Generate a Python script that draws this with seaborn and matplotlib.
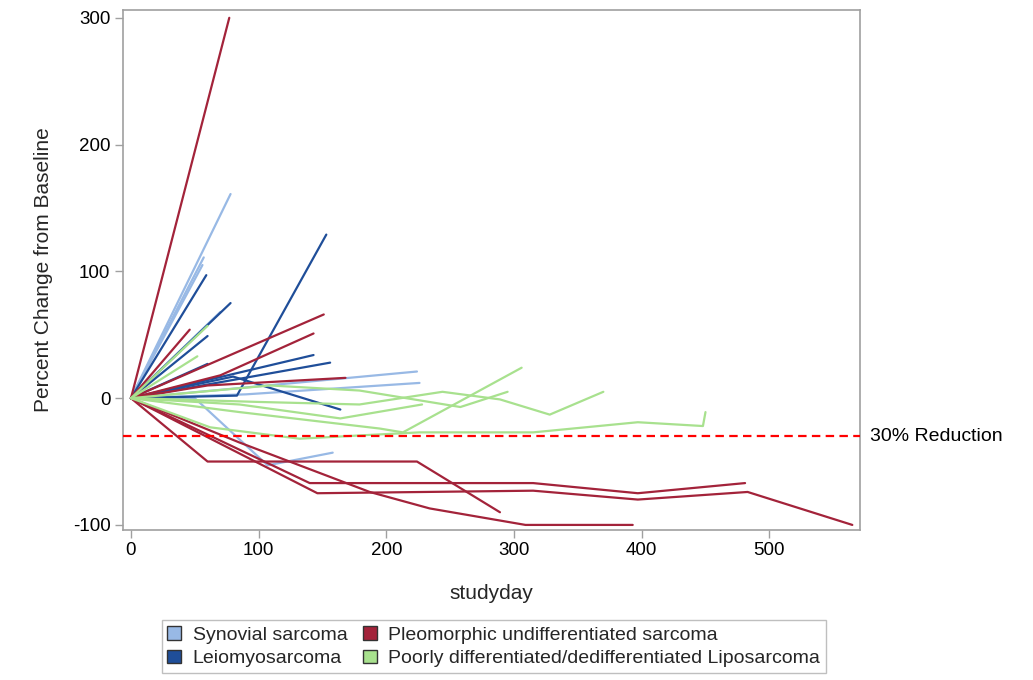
import numpy as np
import pandas as pd
import matplotlib
matplotlib.use("Agg")
import matplotlib.pyplot as plt
import matplotlib.transforms as mtransforms
from matplotlib.patches import Patch
import seaborn as sns

# Histology groups and their colours
histologies = [
    "Synovial sarcoma",
    "Leiomyosarcoma",
    "Pleomorphic undifferentiated sarcoma",
    "Poorly differentiated/dedifferentiated Liposarcoma",
]
hist_colors = ["#98B9E5", "#1F4E99", "#A3233A", "#A8E18E"]

# Per-patient tumour measurements: study day and percent change from baseline
synovial_days = [[0, 78], [0, 57], [0, 56], [0, 70], [0, 50, 107, 158], [0, 224], [0, 90, 226]]
synovial_pct = [[0, 161], [0, 111], [0, 105], [0, 68], [0, 0, -53, -43], [0, 21], [0, 3, 12]]

leio_days = [[0, 59], [0, 78], [0, 60], [0, 60], [0, 83, 153], [0, 143], [0, 156], [0, 80, 164]]
leio_pct = [[0, 97], [0, 75], [0, 49], [0, 27], [0, 2, 129], [0, 34], [0, 28], [0, 17, -9]]

pleo_days = [
    [0, 77], [0, 46], [0, 151], [0, 70, 143], [0, 60, 168],
    [0, 60, 224, 289],
    [0, 140, 315, 397, 481],
    [0, 146, 315, 397, 483, 565],
    [0, 85, 187, 234, 309, 393],
]
pleo_pct = [
    [0, 300], [0, 54], [0, 66], [0, 18, 51], [0, 10, 16],
    [0, -50, -50, -90],
    [0, -67, -67, -75, -67],
    [0, -75, -73, -80, -74, -100],
    [0, -35, -74, -87, -100, -100],
]

lipo_days = [
    [0, 52], [0, 60],
    [0, 62, 132, 187, 226, 315, 397, 448, 450],
    [0, 85, 164, 228],
    [0, 85, 195, 213, 306],
    [0, 109, 179, 258, 295],
    [0, 100, 179, 244, 289, 328, 370],
]
lipo_pct = [
    [0, 33], [0, 57],
    [0, -23, -32, -29, -27, -27, -19, -22, -11],
    [0, -5, -16, -5],
    [0, -11, -24, -27, 24],
    [0, 10, 6, -7, 5],
    [0, -3, -5, 5, -1, -13, 5],
]

yticks = [-100, 0, 100, 200, 300]
xticks = [0, 100, 200, 300, 400, 500]
reduction_level = -30

# Long-form table: one row per visit
rows = []
subject = 0
for hist, days_list, pct_list in zip(
    histologies,
    [synovial_days, leio_days, pleo_days, lipo_days],
    [synovial_pct, leio_pct, pleo_pct, lipo_pct],
):
    for days, pcts in zip(days_list, pct_list):
        subject += 1
        for d, p in zip(days, pcts):
            rows.append({"subject": subject, "histology": hist, "studyday": d, "pct": p})
df = pd.DataFrame(rows)

sns.set_style("white")
plt.rcParams["font.family"] = ["Liberation Sans", "DejaVu Sans"]
plt.rcParams["axes.unicode_minus"] = False

fig = plt.figure(figsize=(10.33, 6.8), dpi=100)
ax = fig.add_axes([0.119, 0.2206, 0.7135, 0.7644])

palette = dict(zip(histologies, hist_colors))
sns.lineplot(
    data=df, x="studyday", y="pct", hue="histology", units="subject",
    estimator=None, sort=False, palette=palette, hue_order=histologies,
    linewidth=1.6, legend=False, ax=ax,
)

ax.axhline(reduction_level, color="#FF0000", linewidth=1.6, linestyle=(0, (3.8, 2.4)), zorder=3)
trans = mtransforms.blended_transform_factory(ax.transAxes, ax.transData)
ax.text(1.013, reduction_level, "30% Reduction", transform=trans, ha="left", va="center",
        fontsize=14, color="black")

ax.set_xlim(-6.3, 571)
ax.set_ylim(-104, 306)
ax.set_xticks(xticks)
ax.set_yticks(yticks)
ax.tick_params(axis="both", which="both", direction="out", length=6, width=1,
               color="#A0A0A0", labelsize=13.5, labelcolor="black", pad=3,
               bottom=True, left=True)
for s in ax.spines.values():
    s.set_color("#A0A0A0")
    s.set_linewidth(1.2)

ax.set_xlabel("studyday", fontsize=15, labelpad=18)
ax.set_ylabel("Percent Change from Baseline", fontsize=15, labelpad=14)

handles = [Patch(facecolor=c, edgecolor="#333333", linewidth=1.0, label=h)
           for h, c in zip(histologies, hist_colors)]
leg = fig.legend(
    handles=handles, loc="lower center", bbox_to_anchor=(0.478, 0.010), ncol=2,
    fontsize=14, frameon=True, fancybox=False, shadow=False,
    handlelength=0.7, handleheight=0.7, handletextpad=0.6, columnspacing=0.8,
    labelspacing=0.3, borderpad=0.3, borderaxespad=0.0,
)
leg.get_frame().set_edgecolor("#B0B0B0")
leg.get_frame().set_linewidth(1.0)

fig.savefig("out.png", dpi=100)
